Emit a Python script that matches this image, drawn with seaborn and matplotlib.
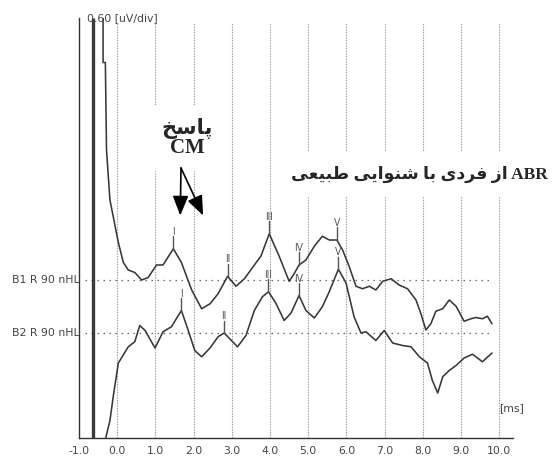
import numpy as np
import pandas as pd
import matplotlib
matplotlib.use('Agg')
import matplotlib.pyplot as plt
import seaborn as sns

# ABR traces, time in ms, amplitude in uV relative to each trace baseline
b1_time = [-0.37, -0.37, -0.31, -0.28, -0.19, 0.03, 0.16, 0.29, 0.46, 0.64, 0.81, 1.03, 1.20,
           1.47, 1.68, 1.95, 2.21, 2.43, 2.64, 2.89, 3.11, 3.33, 3.59, 3.76, 3.98, 4.24, 4.50,
           4.63, 4.76, 4.94, 5.16, 5.37, 5.55, 5.75, 5.90, 6.07, 6.25, 6.42, 6.60, 6.77, 6.95,
           7.17, 7.38, 7.60, 7.82, 7.95, 8.08, 8.21, 8.34, 8.52, 8.69, 8.87, 9.08, 9.26, 9.39,
           9.56, 9.69, 9.81]
b1_amp = [2.30, 1.74, 1.74, 1.04, 0.64, 0.30, 0.14, 0.08, 0.06, 0.00, 0.02, 0.12, 0.12,
          0.25, 0.14, -0.08, -0.23, -0.19, -0.11, 0.03, -0.05, 0.01, 0.12, 0.19, 0.37, 0.19, -0.01,
          0.05, 0.12, 0.16, 0.27, 0.35, 0.32, 0.32, 0.24, 0.11, -0.05, -0.07, -0.05, -0.08, -0.01,
          0.01, -0.04, -0.07, -0.16, -0.27, -0.40, -0.35, -0.25, -0.23, -0.16, -0.21, -0.33, -0.31, -0.30,
          -0.31, -0.29, -0.35]

b2_time = [-0.30, -0.19, -0.10, 0.03, 0.29, 0.46, 0.59, 0.73, 0.99, 1.20, 1.42, 1.68, 1.86,
           2.03, 2.21, 2.43, 2.64, 2.80, 3.02, 3.15, 3.37, 3.59, 3.80, 3.96, 4.15, 4.37, 4.55,
           4.76, 4.94, 5.16, 5.37, 5.55, 5.79, 5.99, 6.13, 6.20, 6.38, 6.51, 6.77, 6.99, 7.21,
           7.47, 7.69, 7.91, 8.12, 8.25, 8.39, 8.52, 8.69, 8.87, 9.08, 9.30, 9.56, 9.81]
b2_amp = [-0.84, -0.70, -0.50, -0.24, -0.11, -0.07, 0.06, 0.02, -0.12, 0.01, 0.05, 0.18, 0.02,
          -0.14, -0.19, -0.12, -0.03, 0.00, -0.07, -0.11, -0.02, 0.18, 0.29, 0.33, 0.24, 0.10, 0.16,
          0.30, 0.18, 0.12, 0.21, 0.33, 0.51, 0.40, 0.22, 0.13, 0.00, 0.01, -0.06, 0.02, -0.08,
          -0.10, -0.11, -0.19, -0.24, -0.38, -0.48, -0.35, -0.30, -0.26, -0.20, -0.17, -0.23, -0.16]

b1_base = 1.264
b2_base = 0.84
trace_names = ['B1 R 90 nHL', 'B2 R 90 nHL']

peak_names = ['I', 'II', 'III', 'IV', 'V']
b1_peak_time = [1.47, 2.89, 3.98, 4.76, 5.75]
b2_peak_time = [1.68, 2.80, 3.96, 4.76, 5.79]

artifact_time = -0.63
x_ticks = list(range(-1, 11))
grid_times = list(range(0, 11))
y_ticks = [0.6, 1.2, 1.8, 2.4, 3.0]

title_fa = 'ABR از فردی با شنوایی طبیعی'
cm_fa = 'پاسخ'

# matplotlib has no arabic shaping, so pick the contextual forms by hand
FORMS = {
    'ا': ('\uFE8D', '\uFE8E', None, None),
    'ب': ('\uFE8F', '\uFE90', '\uFE91', '\uFE92'),
    'پ': ('\uFB56', '\uFB57', '\uFB58', '\uFB59'),
    'خ': ('\uFEA5', '\uFEA6', '\uFEA7', '\uFEA8'),
    'د': ('\uFEA9', '\uFEAA', None, None),
    'ر': ('\uFEAD', '\uFEAE', None, None),
    'ز': ('\uFEAF', '\uFEB0', None, None),
    'س': ('\uFEB1', '\uFEB2', '\uFEB3', '\uFEB4'),
    'ش': ('\uFEB5', '\uFEB6', '\uFEB7', '\uFEB8'),
    'ط': ('\uFEC1', '\uFEC2', '\uFEC3', '\uFEC4'),
    'ع': ('\uFEC9', '\uFECA', '\uFECB', '\uFECC'),
    'ف': ('\uFED1', '\uFED2', '\uFED3', '\uFED4'),
    'ن': ('\uFEE5', '\uFEE6', '\uFEE7', '\uFEE8'),
    'و': ('\uFEED', '\uFEEE', None, None),
    'ی': ('\uFBFC', '\uFBFD', '\uFBFE', '\uFBFF'),
}


def shape_word(w):
    out = []
    for i, ch in enumerate(w):
        f = FORMS.get(ch)
        if f is None:
            out.append(ch)
            continue
        prev = w[i - 1] if i > 0 else None
        nxt = w[i + 1] if i + 1 < len(w) else None
        join_prev = prev in FORMS and FORMS[prev][2] is not None
        join_next = nxt in FORMS and f[2] is not None
        if join_prev and join_next:
            out.append(f[3])
        elif join_prev:
            out.append(f[1])
        elif join_next:
            out.append(f[2])
        else:
            out.append(f[0])
    return ''.join(reversed(out))


def rtl(text):
    words = text.split(' ')
    return ' '.join(shape_word(w) if any(c in FORMS for c in w) else w for w in reversed(words))


sns.set_theme(style='white')
plt.rcParams['font.family'] = ['DejaVu Sans']

fig = plt.figure(figsize=(5.58, 4.61), dpi=100)
ax = fig.add_axes([79 / 558, 23 / 461, 434 / 558, 420 / 461])
ax.set_xlim(-1.0, 10.36)
ax.set_ylim(0, 3.36)

gray = '#444444'
trace_col = '#383838'

ax.vlines(grid_times, 0, 3.33, colors='#9a9a9a', linestyles=(0, (1.2, 1.2)), lw=0.8, zorder=1)
for base in [b1_base, b2_base]:
    ax.hlines(base, -0.85, 9.8, colors='#666666', linestyles=(0, (1.2, 3.6)), lw=0.9, zorder=1)

ax.vlines(artifact_time, 0, 3.36, colors='#3a3a3a', lw=2.4, zorder=2)

df = pd.concat([
    pd.DataFrame({'time': b1_time, 'uV': np.array(b1_amp) + b1_base, 'trace': trace_names[0]}),
    pd.DataFrame({'time': b2_time, 'uV': np.array(b2_amp) + b2_base, 'trace': trace_names[1]}),
])
sns.lineplot(data=df, x='time', y='uV', units='trace', estimator=None, sort=False,
             color=trace_col, lw=1.15, ax=ax, zorder=3, legend=False)

# peak markers
for times, amps, src_t, base in [(b1_peak_time, b1_amp, b1_time, b1_base),
                                 (b2_peak_time, b2_amp, b2_time, b2_base)]:
    for name, t in zip(peak_names, times):
        y = np.interp(t, src_t[2:], amps[2:]) + base
        ax.plot([t, t], [y, y + 0.1], color='#555555', lw=1.0, zorder=4)
        ax.text(t, y + 0.095, name, ha='center', va='bottom', fontsize=7.5, color='#555555',
                fontstretch='condensed', zorder=4)

for name, base in zip(trace_names, [b1_base, b2_base]):
    ax.text(-0.98, base, name, ha='right', va='center', fontsize=7.8, color=gray, clip_on=False)

ax.text(-0.79, 3.36, '0.60 [uV/div]', ha='left', va='center', fontsize=7.8, color=gray, zorder=5)
ax.text(10.0, 0.24, '[ms]', ha='left', va='center', fontsize=7.8, color=gray, clip_on=False)

# annotations
ax.text(1.83, 2.40, rtl(cm_fa) + '\nCM', ha='center', va='center', fontsize=15, fontweight='bold',
        family=['Liberation Serif', 'DejaVu Sans'], linespacing=0.95, zorder=6,
        bbox=dict(facecolor='white', edgecolor='none', pad=9))
for tip in [1.65, 2.25]:
    ax.annotate('', xy=(tip, 1.78), xytext=(1.67, 2.16),
                arrowprops=dict(arrowstyle='-|>,head_length=1.0,head_width=0.4', color='black',
                                lw=1.2, shrinkA=0, shrinkB=0), zorder=6)

ax.text(11.26, 2.11, rtl(title_fa), ha='right', va='center', fontsize=12.5, fontweight='bold',
        family=['Liberation Serif', 'DejaVu Sans'], zorder=6, clip_on=False,
        bbox=dict(facecolor='white', edgecolor='none', pad=10))

sns.despine(ax=ax)
for s in ['left', 'bottom']:
    ax.spines[s].set_color('#333333')
    ax.spines[s].set_linewidth(1.0)
ax.set_xticks(x_ticks)
ax.set_xticklabels([f'{v:.1f}' for v in x_ticks], fontsize=7.8, color=gray)
ax.set_yticks(y_ticks)
ax.set_yticklabels([])
ax.tick_params(axis='both', direction='inout', length=6, width=0.9, color='#333333', pad=3)
ax.set_xlabel('')
ax.set_ylabel('')

fig.savefig('out.png', dpi=100)
